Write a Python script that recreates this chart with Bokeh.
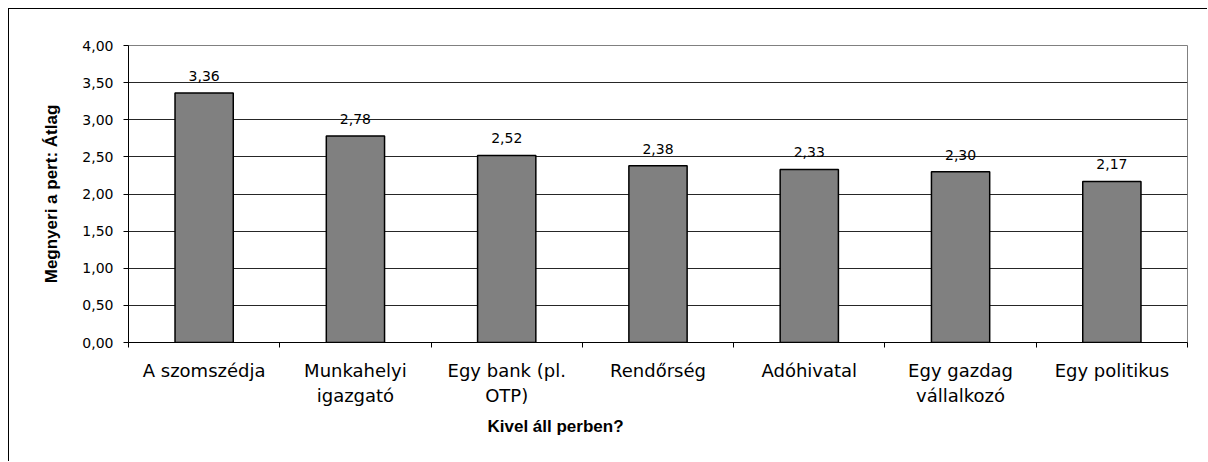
from bokeh.plotting import figure
from bokeh.models import FixedTicker, Range1d, ColumnDataSource, Title
from bokeh.embed import file_html
from bokeh.resources import INLINE
from bokeh.core.properties import value

categories = ["A szomszédja", "Munkahelyi\nigazgató", "Egy bank (pl.\nOTP)", "Rendőrség",
              "Adóhivatal", "Egy gazdag\nvállalkozó", "Egy politikus"]
values = [3.36, 2.78, 2.52, 2.38, 2.33, 2.30, 2.17]
y_ticks = [0, 0.5, 1, 1.5, 2, 2.5, 3, 3.5, 4]
y_tick_labels = ["0,00", "0,50", "1,00", "1,50", "2,00", "2,50", "3,00", "3,50", "4,00"]
x_title = "Kivel áll perben?"
y_title = "Megnyeri a pert: Átlag"

FONT = "DejaVu Sans"
BOLD = "Liberation Sans"
n = len(categories)
centers = [i + 0.5 for i in range(n)]

p = figure(width=1199, height=453, output_backend="svg", toolbar_location=None,
           x_range=Range1d(0, n), y_range=Range1d(0, 4),
           min_border_left=119, min_border_right=21, min_border_top=36, min_border_bottom=120)
p.styles = {"margin-left": "8px", "margin-top": "8px",
            "border-top": "1px solid black", "border-left": "1px solid black"}
p.background_fill_color = "white"
p.border_fill_color = "white"
p.outline_line_color = "#808080"
p.outline_line_width = 1

src = ColumnDataSource(dict(x=centers, top=values,
                            lab=[f"{v:.2f}".replace(".", ",") for v in values]))
p.vbar(x="x", top="top", width=0.385, source=src, fill_color="#808080",
       line_color="black", line_width=1.5)
p.text(x="x", y="top", text="lab", source=src, text_align="center", text_baseline="alphabetic",
       y_offset=-17, text_font=value(FONT), text_font_size="14px", text_color="black")

# grid
p.xgrid.visible = False
p.ygrid.ticker = FixedTicker(ticks=y_ticks)
p.ygrid.grid_line_color = "#262626"
p.ygrid.grid_line_width = 1

# y axis
ya = p.yaxis[0]
ya.ticker = FixedTicker(ticks=y_ticks)
ya.major_label_overrides = {t: l for t, l in zip(y_ticks, y_tick_labels)}
ya.major_label_text_font = FONT
ya.major_label_text_font_size = "14px"
ya.major_label_text_color = "black"
ya.major_tick_in = 0
ya.major_tick_out = 5
ya.minor_tick_line_color = None
ya.axis_line_color = "black"
ya.major_tick_line_color = "black"
ya.major_label_standoff = 10
ya.axis_label = y_title
ya.axis_label_text_font = BOLD
ya.axis_label_text_font_style = "bold"
ya.axis_label_text_font_size = "17px"
ya.axis_label_text_color = "black"
ya.axis_label_standoff = 18

# x axis
xa = p.xaxis[0]
xa.ticker = FixedTicker(ticks=centers, minor_ticks=list(range(n + 1)))
xa.major_label_overrides = {c: l for c, l in zip(centers, categories)}
xa.major_label_text_font = FONT
xa.major_label_text_font_size = "18px"
xa.major_label_text_color = "black"
xa.major_tick_in = 0
xa.major_tick_out = 0
xa.minor_tick_in = 0
xa.minor_tick_out = 5
xa.minor_tick_line_color = "black"
xa.axis_line_color = "black"
xa.major_label_standoff = 12

p.add_layout(Title(text=x_title, align="left", offset=359, standoff=13,
                   text_font=BOLD, text_font_style="bold", text_font_size="17px",
                   text_color="black"), "below")

open("out.html", "w").write(file_html(p, INLINE))
